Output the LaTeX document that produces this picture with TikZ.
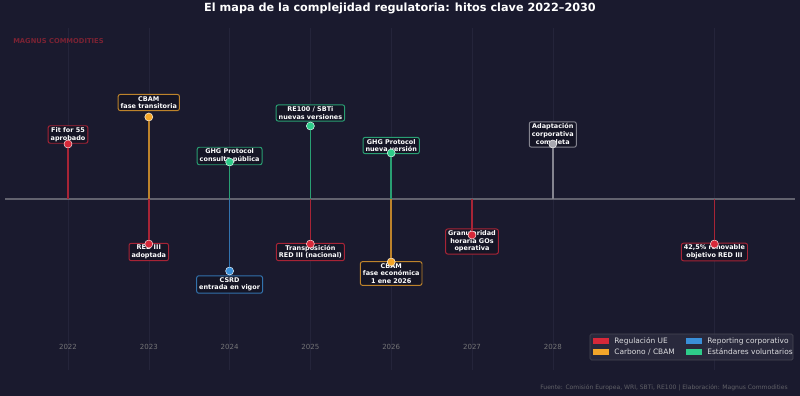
\documentclass[tikz,border=0pt]{standalone}
\usepackage{fontspec}
\setmainfont{DejaVu Sans}
\usepackage{xcolor}
\usetikzlibrary{positioning}
\definecolor{bgcolor}{HTML}{1A1A2E}
\definecolor{regcolor}{HTML}{D62839}
\definecolor{carbcolor}{HTML}{F4A62A}
\definecolor{repcolor}{HTML}{3A8FD8}
\definecolor{volcolor}{HTML}{2ECC8A}
\definecolor{adpcolor}{HTML}{A8A8B0}
\definecolor{gridcolor}{HTML}{24243A}
\definecolor{axiscolor}{HTML}{62626E}
\definecolor{brandcolor}{HTML}{7A2233}

\begin{document}
\begin{tikzpicture}[
  font=\fontsize{4.6}{5.4}\selectfont,
  milestone/.style={draw=#1!75!bgcolor, fill=bgcolor!80!black, rounded corners=1.5pt, line width=0.7pt, align=center, text=white, font=\fontsize{4.6}{5.4}\selectfont\bfseries, inner xsep=1.8pt, inner ysep=1.3pt},
  mdot/.style={circle, fill=#1, draw=white!80!#1, line width=0.4pt, minimum size=0.2cm, inner sep=0pt},
  stemline/.style={draw=#1!75!bgcolor, line width=1.05pt},
  yearlabel/.style={text=gray!90!bgcolor, font=\fontsize{5}{6}\selectfont},
  legpatch/.style={fill=#1, minimum width=0.4cm, minimum height=0.16cm, inner sep=0pt},
  legtext/.style={anchor=west, text=white!85!bgcolor, font=\fontsize{5.3}{6.3}\selectfont, inner sep=0pt},
]

% Canvas
\fill[bgcolor] (0,-4.925) rectangle (20,4.975);
\useasboundingbox (0,-4.925) rectangle (20,4.975);

% Faint year grid
\foreach \gx in {1.70,3.72,5.74,7.76,9.78,11.80,13.82,17.86}
  \draw[gridcolor, line width=0.4pt] (\gx,4.275) -- (\gx,-4.275);

% Title and brand
\node[text=white, font=\fontsize{8}{9.5}\selectfont\bfseries] (title) at (10,4.775) {El mapa de la complejidad regulatoria: hitos clave 2022–2030};
\node[anchor=west, text=brandcolor, font=\fontsize{4.8}{6}\selectfont\bfseries, inner sep=0pt] (brand) at (0.325,3.95) {MAGNUS COMMODITIES};

% Main axis
\coordinate (axL) at (0.125,0);
\coordinate (axR) at (19.875,0);
\draw[axiscolor, line width=1.2pt] (axL) -- (axR);

% Axis anchors for each year
\coordinate (t22) at (1.70,0);
\coordinate (t23) at (3.72,0);
\coordinate (t24) at (5.74,0);
\coordinate (t25) at (7.76,0);
\coordinate (t26) at (9.78,0);
\coordinate (t27) at (11.80,0);
\coordinate (t28) at (13.82,0);
\coordinate (t30) at (17.86,0);

% Year labels
\node[yearlabel] (y22) at (1.70,-3.7) {2022};
\node[yearlabel] (y23) at (3.72,-3.7) {2023};
\node[yearlabel] (y24) at (5.74,-3.7) {2024};
\node[yearlabel] (y25) at (7.76,-3.7) {2025};
\node[yearlabel] (y26) at (9.78,-3.7) {2026};
\node[yearlabel] (y27) at (11.80,-3.7) {2027};
\node[yearlabel] (y28) at (13.82,-3.7) {2028};
\node[yearlabel] (y30) at (17.86,-3.7) {2030};

% Milestone boxes
\node[milestone=regcolor] (bFit) at (1.70,1.6125) {Fit for 55\\aprobado};
\node[milestone=carbcolor] (bCbamT) at (3.72,2.4125) {CBAM\\fase transitoria};
\node[milestone=regcolor] (bRedA) at (3.72,-1.325) {RED III\\adoptada};
\node[milestone=volcolor] (bGhgC) at (5.74,1.075) {GHG Protocol\\consulta pública};
\node[milestone=repcolor] (bCsrd) at (5.74,-2.1375) {CSRD\\entrada en vigor};
\node[milestone=volcolor] (bRe100) at (7.76,2.15) {RE100 / SBTi\\nuevas versiones};
\node[milestone=regcolor] (bTrans) at (7.76,-1.325) {Transposición\\RED III (nacional)};
\node[milestone=volcolor] (bGhgN) at (9.78,1.3375) {GHG Protocol\\nueva versión};
\node[milestone=carbcolor] (bCbamE) at (9.78,-1.8625) {CBAM\\fase económica\\1 ene 2026};
\node[milestone=regcolor] (bGran) at (11.80,-1.0625) {Granularidad\\horaria GOs\\operativa};
\node[milestone=adpcolor] (bAdapt) at (13.82,1.6125) {Adaptación\\corporativa\\completa};
\node[milestone=regcolor] (bRen) at (17.86,-1.325) {42,5\% renovable\\objetivo RED III};

% Milestone dots
\node[mdot=regcolor] (dFit) at (1.70,1.375) {};
\node[mdot=carbcolor] (dCbamT) at (3.72,2.05) {};
\node[mdot=regcolor] (dRedA) at (3.72,-1.125) {};
\node[mdot=volcolor] (dGhgC) at (5.74,0.925) {};
\node[mdot=repcolor] (dCsrd) at (5.74,-1.8) {};
\node[mdot=volcolor] (dRe100) at (7.76,1.825) {};
\node[mdot=regcolor] (dTrans) at (7.76,-1.125) {};
\node[mdot=volcolor] (dGhgN) at (9.78,1.15) {};
\node[mdot=carbcolor] (dCbamE) at (9.78,-1.575) {};
\node[mdot=regcolor] (dGran) at (11.80,-0.9) {};
\node[mdot=adpcolor] (dAdapt) at (13.82,1.375) {};
\node[mdot=regcolor] (dRen) at (17.86,-1.125) {};

% Stems from the axis to each dot
\draw[stemline=regcolor] (t22) -- (dFit);
\draw[stemline=carbcolor] (t23) -- (dCbamT);
\draw[stemline=regcolor] (t23) -- (dRedA);
\draw[stemline=volcolor] (t24) -- (dGhgC);
\draw[stemline=repcolor] (t24) -- (dCsrd);
\draw[stemline=volcolor] (t25) -- (dRe100);
\draw[stemline=regcolor] (t25) -- (dTrans);
\draw[stemline=volcolor] (t26) -- (dGhgN);
\draw[stemline=carbcolor] (t26) -- (dCbamE);
\draw[stemline=regcolor] (t27) -- (dGran);
\draw[stemline=adpcolor] (t28) -- (dAdapt);
\draw[stemline=regcolor] (t30) -- (dRen);

% Legend
\node[draw=gray!45!bgcolor, fill=bgcolor!92!white, fill opacity=0.88, rounded corners=1pt, line width=0.4pt, minimum width=5.075cm, minimum height=0.65cm, inner sep=0pt] (legbox) at (17.2875,-3.7) {};
\node[legpatch=regcolor] (lpReg) at (15.025,-3.55) {};
\node[legpatch=carbcolor] (lpCarb) at (15.025,-3.825) {};
\node[legpatch=repcolor] (lpRep) at (17.35,-3.55) {};
\node[legpatch=volcolor] (lpVol) at (17.35,-3.825) {};
\node[legtext, right=0.12cm of lpReg] (ltReg) {Regulación UE};
\node[legtext, right=0.12cm of lpCarb] (ltCarb) {Carbono / CBAM};
\node[legtext, right=0.12cm of lpRep] (ltRep) {Reporting corporativo};
\node[legtext, right=0.12cm of lpVol] (ltVol) {Estándares voluntarios};

% Source line
\node[anchor=east, inner sep=0pt, text=gray!70!bgcolor, font=\fontsize{4.3}{5}\selectfont] (source) at (19.7,-4.725) {Fuente: Comisión Europea, WRI, SBTi, RE100 | Elaboración: Magnus Commodities};

\end{tikzpicture}
\end{document}
